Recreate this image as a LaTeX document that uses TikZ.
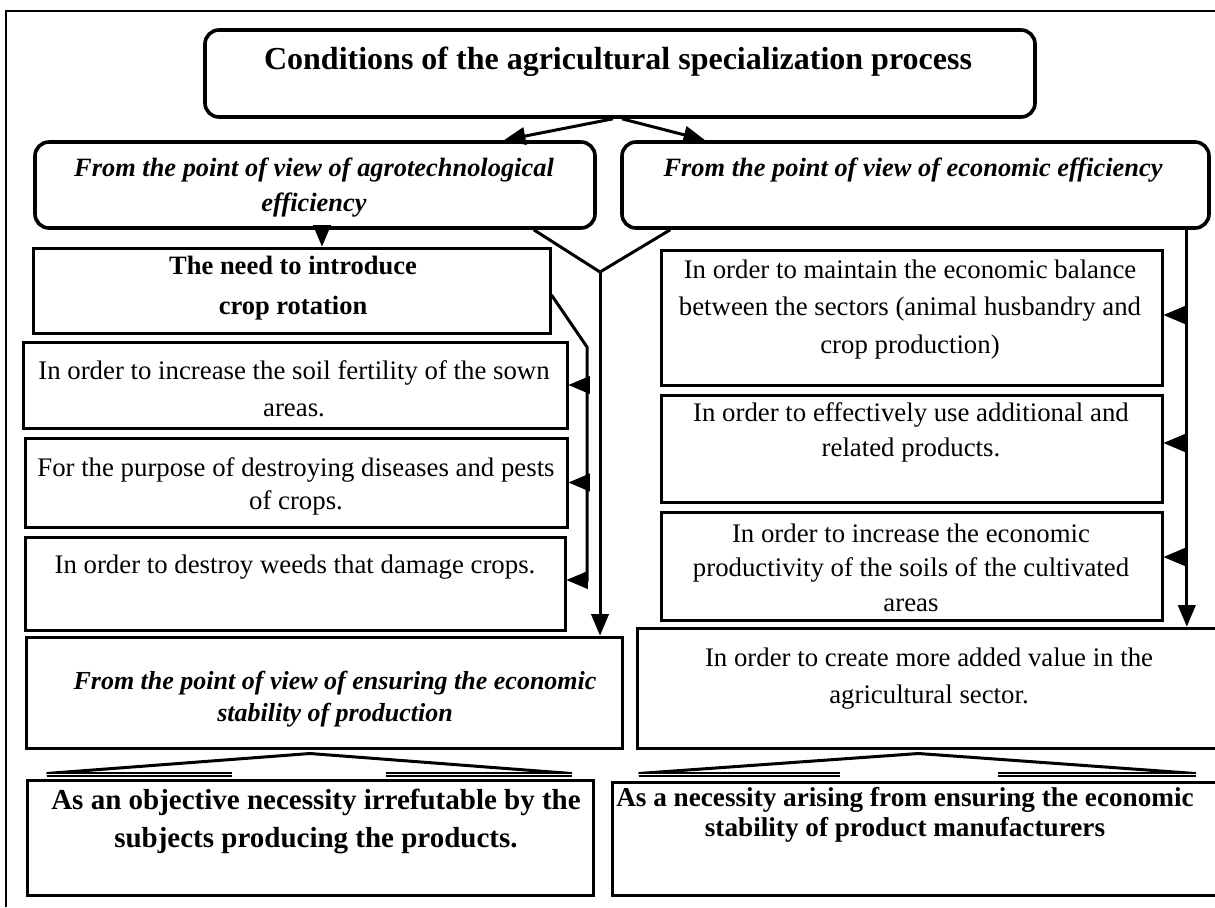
\documentclass[tikz,border=0pt]{standalone}
\usepackage{fontspec}
\setmainfont{Liberation Serif}
\usetikzlibrary{arrows,calc}

\begin{document}
\begin{tikzpicture}[x=0.5pt,y=-0.5pt,>=triangle 45,line width=1.5pt,
  box/.style={draw,line width=1.5pt,inner sep=0pt},
  rbox/.style={box,line width=1.8pt,rounded corners=7pt},
  txt/.style={align=center,inner sep=0pt},
  plain/.style={txt,font=\fontsize{13.4}{18.5}\selectfont},
  head/.style={txt,font=\fontsize{13.2}{17.5}\selectfont\bfseries\itshape},
  bar/.style={double,double distance=0.8pt,line width=0.7pt}]
  \useasboundingbox (0,0) rectangle (1215,907);
  \clip (0,0) rectangle (1215,907);
  \draw[line width=1pt] (6,907) -- (6,11) -- (1215,11);

  % boxes
  \node[rbox, minimum width=415pt, minimum height=43.5pt] (title) at (620,73.5) {};
  \node[rbox, minimum width=280pt, minimum height=43pt] (agro) at (315,185) {};
  \node[rbox, minimum width=293.5pt, minimum height=43pt] (econ) at (915.5,185) {};
  \node[box, minimum width=258.5pt, minimum height=42.5pt] (need) at (291.5,290.5) {};
  \node[box, minimum width=272pt, minimum height=43pt] (A) at (295,385) {};
  \node[box, minimum width=271pt, minimum height=44.5pt] (B) at (296,482.5) {};
  \node[box, minimum width=270pt, minimum height=46.5pt] (C) at (295,583.5) {};
  \node[box, minimum width=298pt, minimum height=55.5pt] (stab) at (324,692.5) {};
  \node[box, minimum width=250.5pt, minimum height=67.5pt] (D) at (911.5,317.5) {};
  \node[box, minimum width=250.5pt, minimum height=53.5pt] (E) at (911.5,448.5) {};
  \node[box, minimum width=250.5pt, minimum height=54pt] (F) at (911.5,566) {};
  \node[box, minimum width=292.5pt, minimum height=60pt] (G) at (929.5,688) {};
  \node[box, minimum width=283pt, minimum height=57.5pt] (obj) at (310,837.5) {};
  \node[box, minimum width=306.5pt, minimum height=56.5pt] (nec) at (918.5,838.5) {};

  % texts
  \node[txt, font=\fontsize{16}{19}\selectfont\bfseries] at (618,62) {Conditions of the agricultural specialization process};
  \node[head] at (314,188) {From the point of view of agrotechnological\\efficiency};
  \node[head] at (913,170) {From the point of view of economic efficiency};
  \node[txt, font=\fontsize{13.25}{20}\selectfont\bfseries] at (293,288) {The need to introduce\\crop rotation};
  \node[plain] at (294,388.5) {In order to increase the soil fertility of the sown\\areas.};
  \node[plain, font=\fontsize{13.4}{16.5}\selectfont] at (296,486.5) {For the purpose of destroying diseases and pests\\of crops.};
  \node[plain] at (295,567) {In order to destroy weeds that damage crops.};
  \node[head, font=\fontsize{13}{16}\selectfont\bfseries\itshape] at (335,699) {From the point of view of ensuring the economic\\stability of production};
  \node[plain, font=\fontsize{13.4}{18.75}\selectfont] at (910,309.5) {In order to maintain the economic balance\\between the sectors (animal husbandry and\\crop production)};
  \node[plain, font=\fontsize{13.4}{17.5}\selectfont] at (911,432.5) {In order to effectively use additional and\\related products.};
  \node[plain, font=\fontsize{13.4}{17.25}\selectfont] at (911,567.5) {In order to increase the economic\\productivity of the soils of the cultivated\\areas};
  \node[plain] at (929,678.5) {In order to create more added value in the\\agricultural sector.};
  \node[txt, font=\fontsize{14.5}{19}\selectfont\bfseries] at (316,821) {As an objective necessity irrefutable by the\\subjects producing the products.};
  \node[txt, font=\fontsize{13.6}{15}\selectfont\bfseries] at (905,815) {As a necessity arising from ensuring the economic\\stability of product manufacturers};

  % connectors
  \draw[->] ($(title.south)+(-7,0)$) -- ($(agro.north)+(189,0)$);
  \draw[->] ($(title.south)+(2,0)$) -- ($(econ.north)+(-210.5,0)$);
  \coordinate (a1) at ($(agro.south)+(7,0)$);
  \draw[->] (a1) -- (a1 |- need.north);
  \coordinate (vtip) at (600,272);
  \draw ($(agro.south east)+(-63,0)$) -- (vtip) -- ($(econ.south west)+(50,0)$);
  \draw[->] (vtip) -- (vtip |- stab.north);
  \coordinate (nb) at (587,347);
  \draw[->] ($(need.east)+(0,4.5)$) -- (nb) -- ($(nb |- C.east)+(0,-3.5)$) -- ($(C.east)+(0,-3.5)$);
  \foreach \b in {A,B}
    \draw[->] (nb |- \b.east) -- (\b.east);
  \coordinate (er) at ($(econ.south east)+(-24,0)$);
  \draw[->] (er) -- (er |- G.north);
  \foreach \b/\s in {D/-2.5,E/-5.5,F/-9}
    \draw[->] ($(er |- \b.east)+(0,\s)$) -- ($(\b.east)+(0,\s)$);

  % roofs
  \draw ($(obj.north west)+(21,-5)$) -- ($(obj.north)+(0,-25)$) -- ($(obj.north east)+(-23,-5)$);
  \draw[bar] ($(obj.north west)+(21,-4)$) -- ++(185,0);
  \draw[bar] ($(obj.north east)+(-23,-4)$) -- ++(-186,0);
  \draw ($(nec.north west)+(28,-7)$) -- ($(nec.north)+(0,-27)$) -- ($(nec.north east)+(-31,-7)$);
  \draw[bar] ($(nec.north west)+(28,-6)$) -- ++(201,0);
  \draw[bar] ($(nec.north east)+(-31,-6)$) -- ++(-198,0);
\end{tikzpicture}
\end{document}
